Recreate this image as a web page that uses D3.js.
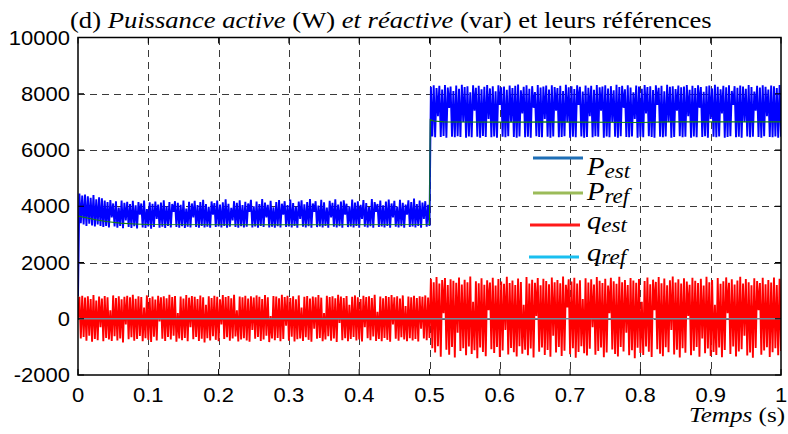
<!DOCTYPE html>
<html>
<head>
<meta charset="utf-8">
<script src="https://cdn.jsdelivr.net/npm/d3@7"></script>
<style>
  body { margin: 0; background: #fff; }
  svg { display: block; }
</style>
</head>
<body>
<svg id="chart" width="788" height="434"></svg>
<script>
// ---------------- DATA ----------------
const sampleStep = 0.002; // s between successive samples
// Active power estimate P_est (W), one sample every 2 ms from t = 0 to 1 s
const pEst = [
  800, 4450, 3400, 4380, 3350, 4420, 3300, 4350, 3380, 4300, 3320, 4400, 3280, 4250, 3350, 4320, 3300, 4280, 3260, 4200,
  3300, 4150, 3250, 4220, 3600, 4100, 3280, 4180, 3240, 3950, 3300, 4200, 3220, 4120, 3500, 4160, 3260, 4080, 3230, 4190,
  3290, 4030, 3210, 4150, 3700, 4100, 3250, 4200, 3230, 3900, 3280, 4140, 3200, 4090, 3260, 4170, 3550, 4060, 3240, 4130,
  3270, 4210, 3230, 4000, 3300, 4150, 3250, 4080, 3800, 4180, 3260, 4120, 3240, 4050, 3290, 4200, 3230, 3920, 3270, 4160,
  3250, 4100, 3600, 4190, 3260, 4040, 3240, 4150, 3300, 4230, 3250, 4080, 3270, 3980, 3240, 4170, 3700, 4110, 3260, 4200,
  3280, 4060, 3250, 4140, 3300, 4250, 3240, 4090, 3270, 3940, 3500, 4180, 3260, 4120, 3240, 4210, 3290, 4040, 3250, 4160,
  3270, 4100, 3800, 4230, 3250, 4000, 3280, 4170, 3240, 4080, 3300, 4260, 3260, 4130, 3600, 4050, 3250, 4190, 3270, 3960,
  3240, 4150, 3290, 4220, 3250, 4090, 3700, 4180, 3260, 4040, 3280, 4240, 3250, 4110, 3300, 3990, 3240, 4170, 3550, 4210,
  3270, 4070, 3250, 4150, 3290, 4260, 3240, 4100, 3800, 4180, 3260, 4020, 3280, 4230, 3250, 4140, 3300, 3950, 3240, 4190,
  3600, 4120, 3270, 4250, 3250, 4060, 3290, 4170, 3240, 4210, 3700, 4090, 3260, 4000, 3280, 4240, 3250, 4130, 3300, 4180,
  3240, 4050, 3550, 4220, 3270, 4110, 3250, 3970, 3290, 4260, 3240, 4150, 3800, 4080, 3260, 4200, 3280, 4030, 3250, 4170,
  3300, 4240, 3240, 4100, 3600, 4190, 3270, 3990, 3250, 4230, 3290, 4120, 3240, 4060, 3700, 4210, 3260, 4150, 3280, 4270,
  3250, 4080, 3300, 4200, 3240, 4130, 3550, 4180, 3270, 4050, 3300,
  8250, 6480, 8300, 6450, 8200, 7200, 8280, 6460, 8150, 6500, 8310, 6440, 8220, 7500, 8260, 6470, 8100, 6450, 8290, 6490,
  8180, 6460, 8320, 7000, 8240, 6440, 8270, 6480, 8050, 6450, 8300, 7400, 8210, 6470, 8280, 6440, 8160, 6500, 8250, 6460,
  8310, 7100, 8190, 6450, 8270, 6480, 8090, 6440, 8300, 7600, 8230, 6470, 8260, 6450, 8140, 6490, 8290, 7000, 8200, 6460,
  8280, 6440, 8330, 6480, 8120, 7300, 8250, 6450, 8300, 6470, 8180, 6440, 8270, 7500, 8060, 6490, 8310, 6460, 8220, 6450,
  8260, 7100, 8290, 6470, 8150, 6440, 8300, 6480, 8240, 7400, 8200, 6450, 8280, 6460, 8100, 6490, 8320, 7000, 8230, 6440,
  8270, 6470, 8170, 6450, 8300, 7600, 8250, 6480, 8080, 6440, 8290, 6460, 8210, 7200, 8280, 6450, 8140, 6490, 8310, 6470,
  8230, 7400, 8260, 6440, 8300, 6480, 8190, 6450, 8270, 7000, 8120, 6470, 8320, 6440, 8240, 6490, 8280, 7500, 8160, 6460,
  8300, 6450, 8220, 6480, 8050, 7100, 8290, 6440, 8260, 6470, 8180, 6450, 8310, 7300, 8240, 6490, 8270, 6460, 8130, 6440,
  8300, 7600, 8210, 6470, 8280, 6450, 8090, 6480, 8320, 7000, 8250, 6440, 8270, 6460, 8170, 7400, 8290, 6490, 8230, 6450,
  8260, 6470, 8310, 7200, 8140, 6440, 8280, 6480, 8200, 6450, 8300, 7500, 8240, 6460, 8070, 6490, 8270, 6440, 8290, 7100,
  8190, 6470, 8320, 6450, 8250, 6480, 8160, 7300, 8280, 6440, 8230, 6460, 8300, 6490, 8100, 7600, 8270, 6450, 8210, 6470,
  8290, 6440, 8260, 7000, 8180, 6480, 8310, 6450, 8240, 6470, 8080, 7400, 8280, 6460, 8220, 6440, 8300, 6490, 8250, 7200,
  8150, 6460, 8290, 6450, 8270, 6480, 8200, 6440, 8310, 6470
];
// Reactive power estimate q_est (var), same sampling
const qEst = [
  0, 780, -700, 820, -650, 750, -780, 800, -600, 700, -820, 840, -720, 650, -760, 790, -300, 720, -800, 810,
  -680, 760, -740, 300, -790, 830, -620, 740, -770, 800, -700, 690, -840, 780, -200, 820, -730, 760, -660, 850,
  -780, 710, -720, 800, -610, 770, -800, 400, -690, 830, -750, 740, -830, 790, -640, 680, -770, 820, -100, 760,
  -710, 800, -790, 730, -650, 850, -740, 770, -600, 810, -820, 200, -700, 790, -760, 720, -680, 840, -800, 750,
  -300, 810, -730, 780, -650, 700, -790, 830, -710, 760, -840, 500, -690, 800, -770, 740, -620, 820, -750, 780,
  -800, 690, -200, 840, -720, 770, -660, 810, -780, 730, -700, 850, -630, 300, -810, 790, -740, 760, -690, 820,
  -770, 720, -820, 800, -400, 750, -710, 830, -650, 780, -790, 700, -740, 840, -600, 760, -830, 100, -700, 810,
  -760, 790, -680, 730, -800, 850, -720, 770, -250, 820, -780, 740, -640, 800, -810, 690, -730, 830, -700, 400,
  -790, 780, -660, 810, -750, 720, -820, 790, -350, 760, -710, 840, -680, 750, -800, 200, -740, 820, -620, 770,
  -780, 800, -700, 730, -830, 850, -150, 790, -760, 740, -690, 810, -800, 500, -720, 780, -650, 830, -770, 760,
  -740, 700, -810, 820, -300, 770, -690, 800, -760, 740, -630, 850, -790, 250, -720, 790, -800, 730, -680, 810,
  -750, 770, -820, 840, -200, 760, -710, 800, -780, 720, -660, 830, -740, 450, -800, 790, -690, 760, -770, 820,
  -720, 740, -810, 800, -350, 780, -700, 830, -760, 750, -680,
  1420, -1050, 1300, -1200, 1480, -980, 1250, -1350, 1380, 200, 1450, -1100, 1200, -1280, 1400, -1000, 1350, -1380, 1280, -500,
  1470, -1150, 1220, -1050, 1390, -1300, 1300, -990, 1500, -1250, 600, -1120, 1330, -1400, 1260, -1020, 1440, -1180, 1210, -1330,
  1370, 300, 1290, -1080, 1460, -1220, 1180, -1000, 1410, -1360, 1320, -1130, 1240, -400, 1490, -1270, 1270, -1040, 1360, -1190,
  1200, -1340, 1430, -980, 1310, -1240, 500, -1100, 1480, -1300, 1250, -1060, 1390, -1380, 1280, 100, 1450, -1170, 1190, -1020,
  1420, -1290, 1340, -1110, 1230, -1350, 1470, -600, 1300, -1200, 1380, -1000, 1260, -1320, 1500, -1140, 1210, 400, 1400, -1260,
  1320, -1050, 1460, -1390, 1250, -1180, 1370, -980, 700, -1230, 1440, -1310, 1290, -1070, 1400, -300, 1220, -1280, 1480, -1150,
  1350, -1020, 1270, -1370, 1420, -1200, 1180, 200, 1460, -1090, 1330, -1250, 1240, -1340, 1490, -1000, 1300, -1160, 1380, -500,
  1200, -1300, 1450, -1120, 1360, -1400, 1280, -1030, 1410, -1220, 600, -1290, 1340, -990, 1470, -1170, 1230, -1360, 1390, 300,
  1310, -1080, 1480, -1240, 1260, -1330, 1430, -1010, 1190, -1190, 1370, -400, 1500, -1270, 1290, -1100, 1400, -1380, 1250, -1050,
  1440, -1210, 1320, 100, 1210, -1300, 1460, -1140, 1350, -1000, 1270, -1350, 1420, -700, 1180, -1230, 1490, -1060, 1300, -1320,
  1380, -1180, 500, -1290, 1450, -1020, 1240, -1370, 1330, -1110, 1470, 200, 1280, -1250, 1400, -990, 1220, -1340, 1360, -1160,
  1490, -1080, 1250, -600, 1410, -1310, 1300, -1200, 1190, -1390, 1440, -1040, 1340, 300, 1270, -1280, 1460, -1130, 1230, -1010,
  1380, -1360, 1290, -1190, 1470, -1050, 1200, -1300, 1420, -1150
];
// Active power reference P_ref (W), read at break points
const pRefTime  = [0, 0.01, 0.025, 0.04, 0.06, 0.08, 0.1, 0.3, 0.5, 0.501, 0.506, 0.52, 0.64, 0.66, 0.8, 0.84, 1];
const pRefValue = [3650, 3600, 3520, 3460, 3400, 3370, 3350, 3340, 3350, 7080, 7030, 7000, 6990, 7000, 6980, 7000, 7000];
// Reactive power reference q_ref (var)
const qRefTime  = [0, 1];
const qRefValue = [0, 0];

const xTicks = [0, 0.1, 0.2, 0.3, 0.4, 0.5, 0.6, 0.7, 0.8, 0.9, 1];
const xTickLabels = ["0", "0.1", "0.2", "0.3", "0.4", "0.5", "0.6", "0.7", "0.8", "0.9", "1"];
const yTicks = [-2000, 0, 2000, 4000, 6000, 8000, 10000];
const yTickLabels = ["-2000", "0", "2000", "4000", "6000", "8000", "10000"];

const legendMain = ["P", "P", "q", "q"];
const legendSub  = ["est", "ref", "est", "ref"];

// ---------------- LAYOUT ----------------
const L = 78, R = 781, T = 37.5, B = 375;
const stretch = 1.1; // the reference's lettering is slightly wider than the installed fonts
const svg = d3.select("#chart");
const x = d3.scaleLinear().domain([0, 1]).range([L, R]);
const y = d3.scaleLinear().domain([-2000, 10000]).range([B, T]);

svg.append("defs").append("clipPath").attr("id", "plotclip")
  .append("rect").attr("x", L).attr("y", T).attr("width", R - L).attr("height", B - T);

// grid
const grid = svg.append("g").attr("stroke", "#3a3a3a").attr("stroke-width", 1)
  .attr("stroke-dasharray", "7,5").attr("fill", "none").attr("shape-rendering", "crispEdges");
xTicks.slice(1, -1).forEach(v => {
  grid.append("line").attr("x1", Math.round(x(v)) + 0.5).attr("x2", Math.round(x(v)) + 0.5)
    .attr("y1", T).attr("y2", B);
});
yTicks.slice(1, -1).forEach(v => {
  grid.append("line").attr("y1", Math.round(y(v)) + 0.5).attr("y2", Math.round(y(v)) + 0.5)
    .attr("x1", L).attr("x2", R);
});

const plot = svg.append("g").attr("clip-path", "url(#plotclip)");
const sampled = arr => arr.map((v, i) => [i * sampleStep, v]);
const paired = (ts, vs) => ts.map((t, i) => [t, vs[i]]);
const line = d3.line().x(d => x(d[0])).y(d => y(d[1]));

plot.append("path").attr("d", line(sampled(pEst)))
  .attr("fill", "none").attr("stroke", "#0000ff").attr("stroke-width", 1.9);
plot.append("path").attr("d", line(paired(pRefTime, pRefValue)))
  .attr("fill", "none").attr("stroke", "#127c12").attr("stroke-width", 1.1);
plot.append("path").attr("d", line(sampled(qEst)))
  .attr("fill", "none").attr("stroke", "#ff0000").attr("stroke-width", 1.9);
plot.append("path").attr("d", line(paired(qRefTime, qRefValue)))
  .attr("fill", "none").attr("stroke", "#74889a").attr("stroke-width", 1.3);

// frame
svg.append("rect").attr("x", L).attr("y", T).attr("width", R - L).attr("height", B - T)
  .attr("fill", "none").attr("stroke", "#000").attr("stroke-width", 1.5);

// ticks (inward) on all four sides
const tk = svg.append("g").attr("stroke", "#000").attr("stroke-width", 1);
xTicks.forEach(v => {
  tk.append("line").attr("x1", x(v)).attr("x2", x(v)).attr("y1", B).attr("y2", B - 6);
  tk.append("line").attr("x1", x(v)).attr("x2", x(v)).attr("y1", T).attr("y2", T + 6);
});
yTicks.forEach(v => {
  tk.append("line").attr("y1", y(v)).attr("y2", y(v)).attr("x1", L).attr("x2", L + 6);
  tk.append("line").attr("y1", y(v)).attr("y2", y(v)).attr("x1", R).attr("x2", R - 6);
});

// tick labels
const sans = "'Liberation Sans', Arial, Helvetica, sans-serif";
const serif = "'Liberation Serif', 'Times New Roman', Times, serif";
svg.append("g").selectAll("text").data(xTicks).join("text")
  .attr("transform", d => `translate(${x(d)},402) scale(${stretch},1)`).attr("text-anchor", "middle")
  .style("font-family", sans).style("font-size", "20px").attr("fill", "#000")
  .text((d, i) => xTickLabels[i]);
svg.append("g").selectAll("text").data(yTicks).join("text")
  .attr("transform", d => `translate(70,${y(d)}) scale(${stretch},1)`).attr("dy", "0.36em").attr("text-anchor", "end")
  .style("font-family", sans).style("font-size", "20px").attr("fill", "#000")
  .text((d, i) => yTickLabels[i]);

// title (stretched to the reference's width)
const title = svg.append("text")
  .style("font-family", serif).style("font-size", "23px").attr("fill", "#000");
[["(d) ", "normal"], ["Puissance active", "italic"], [" (W) ", "normal"], ["et réactive", "italic"],
 [" (var) et leurs références", "normal"]].forEach(([s, st]) => {
  title.append("tspan").style("font-style", st).text(s);
});
const tl = title.node().getComputedTextLength();
title.attr("transform", `translate(70,28) scale(${Math.min(1.25, Math.max(0.9, 642 / tl))},1)`);

// x-axis title
const xt = svg.append("text").attr("text-anchor", "end")
  .style("font-family", serif).style("font-size", "22px").attr("fill", "#000");
xt.append("tspan").style("font-style", "italic").text("Temps");
xt.append("tspan").text(" (s)");
const xl = xt.node().getComputedTextLength();
xt.attr("transform", `translate(785,422) scale(${Math.min(1.25, Math.max(0.9, 96 / xl))},1)`);

// legend
const legColors = ["#1f6fb6", "#9bbb59", "#ff1a1a", "#19bff0"];
const legLineY = [158, 193, 225, 257];
const legTextY = [175, 200, 229, 261];
const legX1 = [533, 533, 530, 529], legX2 = [583, 583, 580, 579];
const leg = svg.append("g");
legendMain.forEach((m, i) => {
  leg.append("line").attr("x1", legX1[i]).attr("x2", legX2[i]).attr("y1", legLineY[i]).attr("y2", legLineY[i])
    .attr("stroke", legColors[i]).attr("stroke-width", 3);
  const t = leg.append("text").attr("transform", `translate(587,${legTextY[i]}) scale(${stretch},1)`)
    .style("font-family", serif).style("font-style", "italic").attr("fill", "#000");
  t.append("tspan").style("font-size", "26px").text(m);
  t.append("tspan").style("font-size", "21px").attr("dy", 3).text(legendSub[i]);
});
</script>
</body>
</html>
